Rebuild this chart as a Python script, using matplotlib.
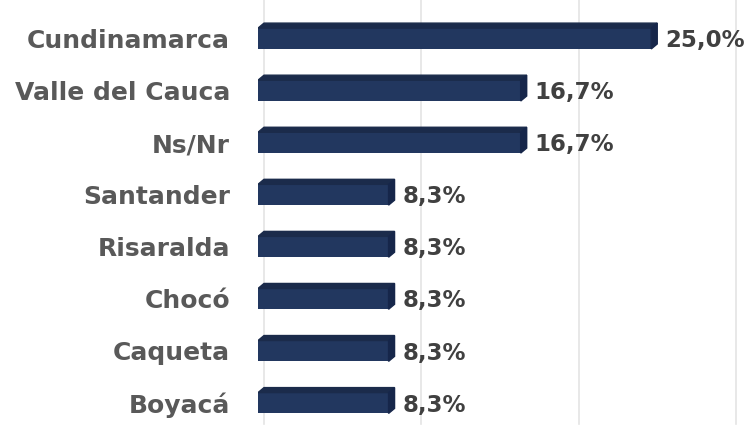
import matplotlib.pyplot as plt
from matplotlib.patches import Polygon

# datos
departamentos = ['Boyacá', 'Caqueta', 'Chocó', 'Risaralda', 'Santander',
                 'Ns/Nr', 'Valle del Cauca', 'Cundinamarca']
porcentajes = [8.3, 8.3, 8.3, 8.3, 8.3, 16.7, 16.7, 25.0]
ticks_x = [0, 10, 20, 30]

frente = '#22375f'
techo = '#1b2b4b'
lado = '#16264a'
texto = '#595959'

fig = plt.figure(figsize=(7.46, 4.28), dpi=100)
ax = fig.add_axes([258 / 746, 0, 488 / 746, 1])
ax.set_xlim(0, 488 / 15.73)
ax.set_ylim(-0.48, 7.74)

# profundidad del efecto 3D en unidades de datos
dx = 6 / 15.73
dy = 5 / 52.07
alto = 0.4

# rejilla vertical (pared del fondo)
for t in ticks_x:
    ax.plot([t + dx, t + dx], [-0.40, 7.74], color='#e4e4e4', lw=1.2, zorder=0)

for i, (nombre, v) in enumerate(zip(departamentos, porcentajes)):
    y0 = i - alto / 2
    y1 = i + alto / 2
    ax.barh(i, v, height=alto, color=frente, zorder=3)
    ax.add_patch(Polygon([(0, y1), (v, y1), (v + dx, y1 + dy), (dx, y1 + dy)],
                         closed=True, color=techo, zorder=3))
    ax.add_patch(Polygon([(v, y0), (v + dx, y0 + dy), (v + dx, y1 + dy), (v, y1)],
                         closed=True, color=lado, zorder=3))
    ax.text(v + dx + 0.5, i - 0.04, f'{v:.1f}%'.replace('.', ','),
            va='center', ha='left', fontsize=16.5, fontweight='bold', color='#404040')

ax.set_yticks(range(len(departamentos)))
ax.set_yticklabels(departamentos, fontsize=18, fontweight='bold', color=texto)
ax.tick_params(axis='y', length=0, pad=20)
ax.set_xticks([])
for s in ax.spines.values():
    s.set_visible(False)

fig.savefig('out.png', dpi=100)
